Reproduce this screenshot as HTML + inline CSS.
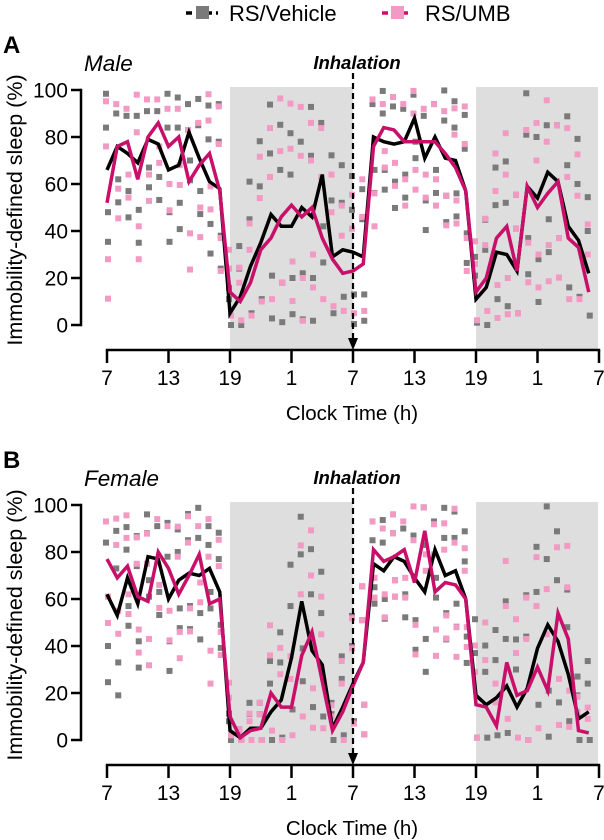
<!DOCTYPE html>
<html><head><meta charset="utf-8"><style>
html,body{margin:0;padding:0;background:#fff;width:604px;height:840px;overflow:hidden}
svg{display:block;font-family:"Liberation Sans",sans-serif}
</style></head><body>
<svg id="chart" width="604" height="840" viewBox="0 0 604 840" xmlns="http://www.w3.org/2000/svg">
<g>
 <g>
  <line x1="186" y1="13" x2="218" y2="13" stroke="#000" stroke-width="3.5" stroke-dasharray="6,4"/>
  <rect x="196" y="6" width="13" height="13" fill="#7a7a7a"/>
  <text x="229" y="21" font-size="22">RS/Vehicle</text>
 </g>
 <g>
  <line x1="382" y1="13" x2="412" y2="13" stroke="#c8106a" stroke-width="3.5" stroke-dasharray="6,4"/>
  <rect x="391" y="6" width="13" height="13" fill="#f39ac4"/>
  <text x="425" y="21" font-size="22">RS/UMB</text>
 </g>
</g>
<g id="panelA"></g>
<g id="panelB"></g>
</svg>
<script>
const hours = [7,13,19,1,7,13,19,1,7];
const yTicks = [0,20,40,60,80,100];
const maleVehicle = [66,76,73,69,79,77,66,68,82,71,61,58,5,12,25,35,47,42,42,50,46,64,29,32,31,29,80,78,77,78,88,71,80,71,70,57,11,16,31,30,23,59,54,65,61,42,36,22];
const maleUMB = [52,76,78,62,80,86,76,80,61,68,73,57,14,10,18,32,37,46,51,46,50,37,28,22,23,26,76,84,83,78,78,78,78,73,67,57,14,20,37,42,23,59,50,56,61,37,33,14];
const femaleVehicle = [62,53,69,58,78,77,60,68,71,70,73,63,4,1,5,5,12,17,35,59,38,32,5,14,24,33,75,72,78,76,69,63,81,70,72,60,19,15,18,23,14,22,39,49,42,28,9,12];
const femaleUMB = [77,69,74,61,59,80,73,62,70,79,58,60,10,1,4,5,20,14,14,36,46,25,4,12,23,33,81,76,78,81,67,89,63,67,66,60,15,14,6,33,19,21,31,21,54,43,4,3];
const maleVehSpread = [18,14,16,20,12,14,18,16,12,14,18,20,6,12,20,24,26,24,22,28,26,22,24,20,18,16,14,12,16,14,10,18,14,16,14,18,10,16,20,22,18,22,26,20,24,26,24,18];
const maleUMBSpread = [24,18,14,20,16,10,16,12,22,18,14,20,10,8,14,22,26,28,24,26,20,26,20,16,18,20,20,10,14,16,12,14,16,18,14,20,12,14,20,22,18,24,20,22,24,26,22,16];
const femVehSpread = [22,20,12,16,10,14,18,12,14,16,10,14,4,2,6,6,12,16,22,20,24,22,6,12,16,18,10,12,10,14,18,20,12,16,14,16,18,14,16,20,16,22,24,28,26,20,10,12];
const femUMBSpread = [16,14,12,14,16,14,18,16,14,12,20,14,8,2,4,6,16,14,12,26,24,20,6,12,16,18,12,14,10,12,18,10,16,14,18,12,14,20,10,24,18,22,26,24,28,22,8,6];

const NS = "http://www.w3.org/2000/svg";
function mk(parent, tag, attrs){const e=document.createElementNS(NS,tag);for(const k in attrs)e.setAttribute(k,attrs[k]);parent.appendChild(e);return e;}

function drawPanel(g, off, letter, sex, veh, umb, vs, us){
  const x = i => 107 + i*10.25;
  const y = v => off + 325 - v*2.35;
  const sx = h => 107 + h*10.25;
  let e;
  e = mk(g,'rect',{x:sx(12),y:off+87,width:sx(24)-sx(12),height:263,fill:'#dedede'});
  
  
  e = mk(g,'rect',{x:sx(36),y:off+87,width:sx(48)-sx(36)-1,height:263,fill:'#dedede'});
  
  
  function scat(vals, spr, color, name){
    const sg = mk(g,'g',{});
    
    
    vals.forEach((m,i)=>{
      [1,-1,1.8,-1.7].forEach((k,j)=>{
        let v = m + k*spr[i];
        if (v > 100 || v < -1) return;
        v = Math.max(0, v);
        const r = mk(sg,'rect',{x:x(i)-3+(j%2?1:-1),y:y(v)-3,width:6,height:6,fill:color});
        
        
      });
    });
  }
  scat(veh, vs, '#7a7a7a', 'vehicle-individuals');
  scat(umb, us, '#f39ac4', 'umb-individuals');
  e = mk(g,'polyline',{points:veh.map((v,i)=>x(i)+','+y(v)).join(' '),fill:'none',stroke:'#000','stroke-width':3.5});
  
  
  e = mk(g,'polyline',{points:umb.map((v,i)=>x(i)+','+y(v)).join(' '),fill:'none',stroke:'#c8106a','stroke-width':3.5});
  
  
  e = mk(g,'line',{x1:sx(24),y1:off+73,x2:sx(24),y2:off+340,stroke:'#000','stroke-width':2.2,'stroke-dasharray':'6,4'});
  
  
  e = mk(g,'polygon',{points:`${sx(24)-5},${off+338} ${sx(24)+5},${off+338} ${sx(24)},${off+350}`,fill:'#000'});
  
  
  e = mk(g,'text',{x:sx(24)+4,y:off+69,'font-size':18.5,'font-weight':'bold','font-style':'italic','text-anchor':'middle'});
  e.textContent='Inhalation';
  
  
  e = mk(g,'line',{x1:81,y1:y(100)-1.2,x2:81,y2:y(0)+1.2,stroke:'#000','stroke-width':2.5});
  
  
  yTicks.forEach(t=>{
    let l = mk(g,'line',{x1:71,y1:y(t),x2:81,y2:y(t),stroke:'#000','stroke-width':2.5});
    
    
    let tx = mk(g,'text',{x:68,y:y(t)+7.5,'font-size':21,'text-anchor':'end'});
    tx.textContent=t;
    
    
  });
  e = mk(g,'text',{x:0,y:0,'font-size':21.5,'text-anchor':'middle',transform:`translate(22,${off+210}) rotate(-90)`});
  e.textContent='Immobility-defined sleep (%)';
  
  
  e = mk(g,'line',{x1:sx(0)-1.2,y1:off+350,x2:sx(48)+1.2,y2:off+350,stroke:'#000','stroke-width':2.5});
  
  
  hours.forEach((h,k)=>{
    const xx = sx(k*6);
    let l = mk(g,'line',{x1:xx,y1:off+350,x2:xx,y2:off+363,stroke:'#000','stroke-width':2.5});
    
    
    let tx = mk(g,'text',{x:xx,y:off+385,'font-size':21,'text-anchor':'middle'});
    tx.textContent=h;
    
    
  });
  e = mk(g,'text',{x:352,y:off+420,'font-size':20.5,'text-anchor':'middle'});
  e.textContent='Clock Time (h)';
  
  
  e = mk(g,'text',{x:3,y:off+53,'font-size':24,'font-weight':'bold'});
  e.textContent=letter;
  
  
  e = mk(g,'text',{x:84,y:off+71,'font-size':22.5,'font-style':'italic'});
  e.textContent=sex;
  
  
}
drawPanel(document.getElementById('panelA'),0,'A','Male',maleVehicle,maleUMB,maleVehSpread,maleUMBSpread);
drawPanel(document.getElementById('panelB'),415,'B','Female',femaleVehicle,femaleUMB,femVehSpread,femUMBSpread);
</script>
</body></html>
